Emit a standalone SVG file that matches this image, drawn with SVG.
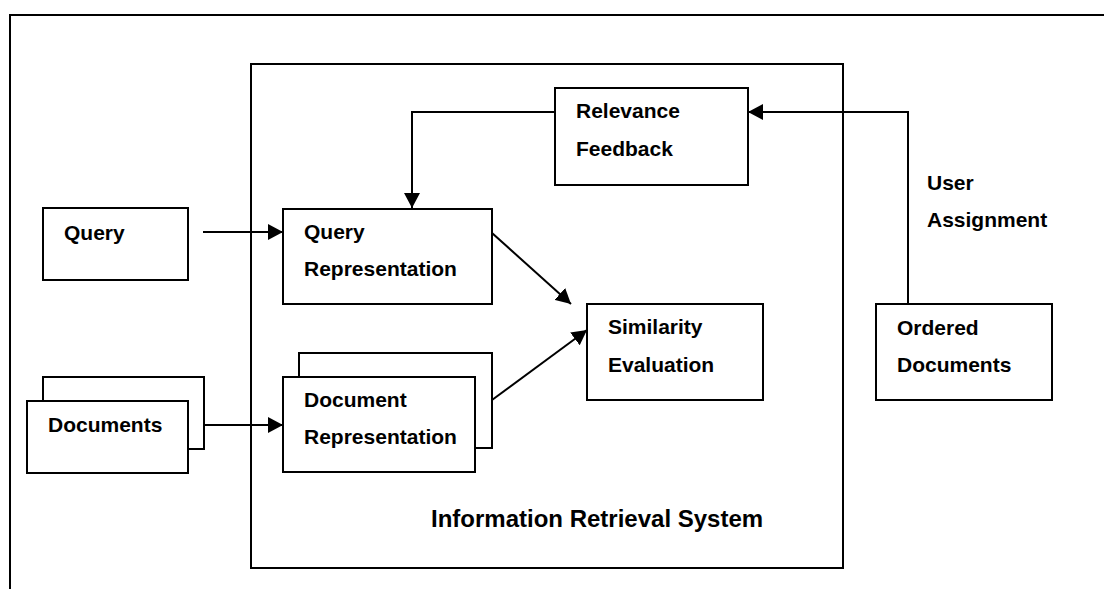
<svg xmlns="http://www.w3.org/2000/svg" width="1104" height="589" viewBox="0 0 1104 589">
  <defs>
    <marker id="arrow" markerUnits="userSpaceOnUse" markerWidth="15" markerHeight="16" refX="15" refY="8" orient="auto">
      <path d="M0,0 L15,8 L0,16 z" fill="#000"/>
    </marker>
    <style>
      .box { fill: #fff; stroke: #000; stroke-width: 2; }
      .frame { fill: none; stroke: #000; stroke-width: 2; }
      .conn { fill: none; stroke: #000; stroke-width: 2; }
      .lbl { font-family: "Liberation Sans", Arial, sans-serif; font-weight: bold; font-size: 21px; fill: #000; }
      .title { font-family: "Liberation Sans", Arial, sans-serif; font-weight: bold; font-size: 24px; fill: #000; }
    </style>
  </defs>

  <rect width="1104" height="589" fill="#fff"/>

  <!-- page frame -->
  <path class="frame" d="M10,589 V15 H1104"/>

  <!-- system boundary -->
  <g id="system">
    <rect class="frame" x="251" y="64" width="592" height="504"/>
    <text class="title" x="431" y="527">Information Retrieval System</text>
  </g>

  <g id="relevance-feedback">
    <rect class="box" x="555" y="88" width="193" height="97"/>
    <text class="lbl" x="576" y="118">Relevance</text>
    <text class="lbl" x="576" y="156">Feedback</text>
  </g>

  <g id="query">
    <rect class="box" x="43" y="208" width="145" height="72"/>
    <text class="lbl" x="64" y="240">Query</text>
  </g>

  <g id="documents">
    <rect class="box" x="43" y="377" width="161" height="72"/>
    <rect class="box" x="27" y="401" width="161" height="72"/>
    <text class="lbl" x="48" y="432">Documents</text>
  </g>

  <g id="query-representation">
    <rect class="box" x="283" y="209" width="209" height="95"/>
    <text class="lbl" x="304" y="239">Query</text>
    <text class="lbl" x="304" y="276">Representation</text>
  </g>

  <g id="document-representation">
    <rect class="box" x="299" y="353" width="193" height="95"/>
    <rect class="box" x="283" y="377" width="192" height="95"/>
    <text class="lbl" x="304" y="407">Document</text>
    <text class="lbl" x="304" y="444">Representation</text>
  </g>

  <g id="similarity-evaluation">
    <rect class="box" x="587" y="304" width="176" height="96"/>
    <text class="lbl" x="608" y="334">Similarity</text>
    <text class="lbl" x="608" y="372">Evaluation</text>
  </g>

  <g id="ordered-documents">
    <rect class="box" x="876" y="304" width="176" height="96"/>
    <text class="lbl" x="897" y="335">Ordered</text>
    <text class="lbl" x="897" y="372">Documents</text>
  </g>

  <g id="connectors">
    <line class="conn" x1="203" y1="232" x2="283" y2="232" marker-end="url(#arrow)"/>
    <line class="conn" x1="204" y1="425" x2="283" y2="425" marker-end="url(#arrow)"/>
    <line class="conn" x1="492" y1="233" x2="571" y2="304" marker-end="url(#arrow)"/>
    <line class="conn" x1="492" y1="400" x2="587" y2="330" marker-end="url(#arrow)"/>
    <path class="conn" d="M555,112 H412 V208" marker-end="url(#arrow)"/>
    <path class="conn" d="M908,304 V112 H748" marker-end="url(#arrow)"/>
    <text class="lbl" x="927" y="190">User</text>
    <text class="lbl" x="927" y="227">Assignment</text>
  </g>
</svg>
